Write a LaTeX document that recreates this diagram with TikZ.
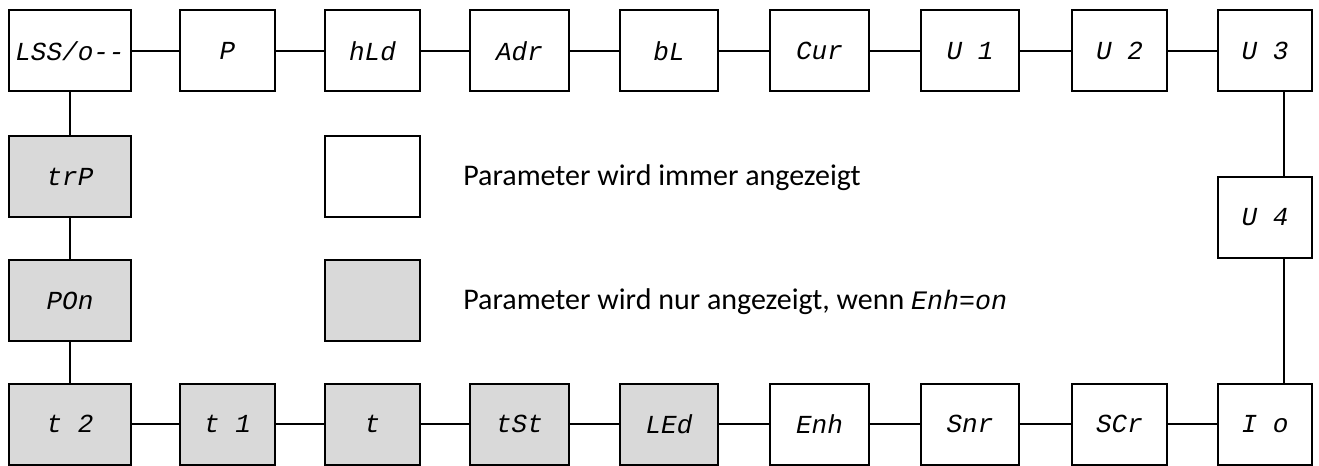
\documentclass[tikz,border=0pt]{standalone}
\usepackage{fontspec}
\setmainfont{Carlito}
\newfontfamily\segfont{Liberation Mono}
\definecolor{boxgray}{HTML}{D9D9D9}
\begin{document}
\begin{tikzpicture}[x=0.75pt,y=-0.75pt,
  box/.style={draw=black, line width=1.5pt, inner sep=0pt, minimum width=96*0.75pt, minimum height=81*0.75pt,
    font=\segfont\itshape\fontsize{19.5}{19.5}\selectfont},
  wd/.style={minimum width=#1*0.75pt},
  opt/.style={box, fill=boxgray},
  link/.style={line width=1.5pt},
  legend/.style={anchor=west, inner sep=0pt, font=\fontsize{22.5}{26}\selectfont}]
\useasboundingbox (0,0) rectangle (1319,466);
% top row
\node[box, wd=122] (lss) at (70,51) {LSS/o-{}-};
\node[box, wd=95] (p) at (227.5,51) {P};
\node[box, wd=95] (hld) at (372.5,51) {hLd};
\node[box, wd=99] (adr) at (519.5,51) {Adr};
\node[box, wd=98] (bl) at (669,51) {bL};
\node[box, wd=99] (cur) at (819.5,51) {Cur};
\node[box, wd=98] (u1) at (970,51) {U 1};
\node[box, wd=95] (u2) at (1119.5,51) {U 2};
\node[box, wd=94] (u3) at (1265,51) {U 3};
% right column
\node[box, wd=94] (u4) at (1265,217.5) {U 4};
% left column
\node[opt, wd=122] (trp) at (70,176.5) {trP};
\node[opt, wd=122] (pon) at (70,300.5) {POn};
% bottom row
\node[opt, wd=122] (t2) at (70,424) {t 2};
\node[opt, wd=95] (t1) at (227.5,424) {t 1};
\node[opt, wd=95] (t) at (372.5,424) {t};
\node[opt, wd=99] (tst) at (519.5,424) {tSt};
\node[opt, wd=98] (led) at (669,424) {LEd};
\node[box, wd=99] (enh) at (819.5,424) {Enh};
\node[box, wd=98] (snr) at (970,424) {Snr};
\node[box, wd=95] (scr) at (1119.5,424) {SCr};
\node[box, wd=94] (io) at (1265,424) {I o};
% legend
\node[box, wd=95] (legA) at (372.5,176.5) {};
\node[opt, wd=95] (legB) at (372.5,300.5) {};
\node[legend] (txtA) at (463,178) {Parameter wird immer angezeigt};
\node[legend] (txtB) at (463,302) {Parameter wird nur angezeigt, wenn {\segfont\itshape\fontsize{20}{22}\selectfont Enh=on}};
% connectors
\draw[link] (lss) -- (p);
\draw[link] (p) -- (hld);
\draw[link] (hld) -- (adr);
\draw[link] (adr) -- (bl);
\draw[link] (bl) -- (cur);
\draw[link] (cur) -- (u1);
\draw[link] (u1) -- (u2);
\draw[link] (u2) -- (u3);
\coordinate (rx) at (1284,0);
\draw[link] (u3.south -| rx) -- (u4.north -| rx);
\draw[link] (u4.south -| rx) -- (io.north -| rx);
\draw[link] (lss) -- (trp);
\draw[link] (trp) -- (pon);
\draw[link] (pon) -- (t2);
\draw[link] (t2) -- (t1);
\draw[link] (t1) -- (t);
\draw[link] (t) -- (tst);
\draw[link] (tst) -- (led);
\draw[link] (led) -- (enh);
\draw[link] (enh) -- (snr);
\draw[link] (snr) -- (scr);
\draw[link] (scr) -- (io);
\end{tikzpicture}
\end{document}
